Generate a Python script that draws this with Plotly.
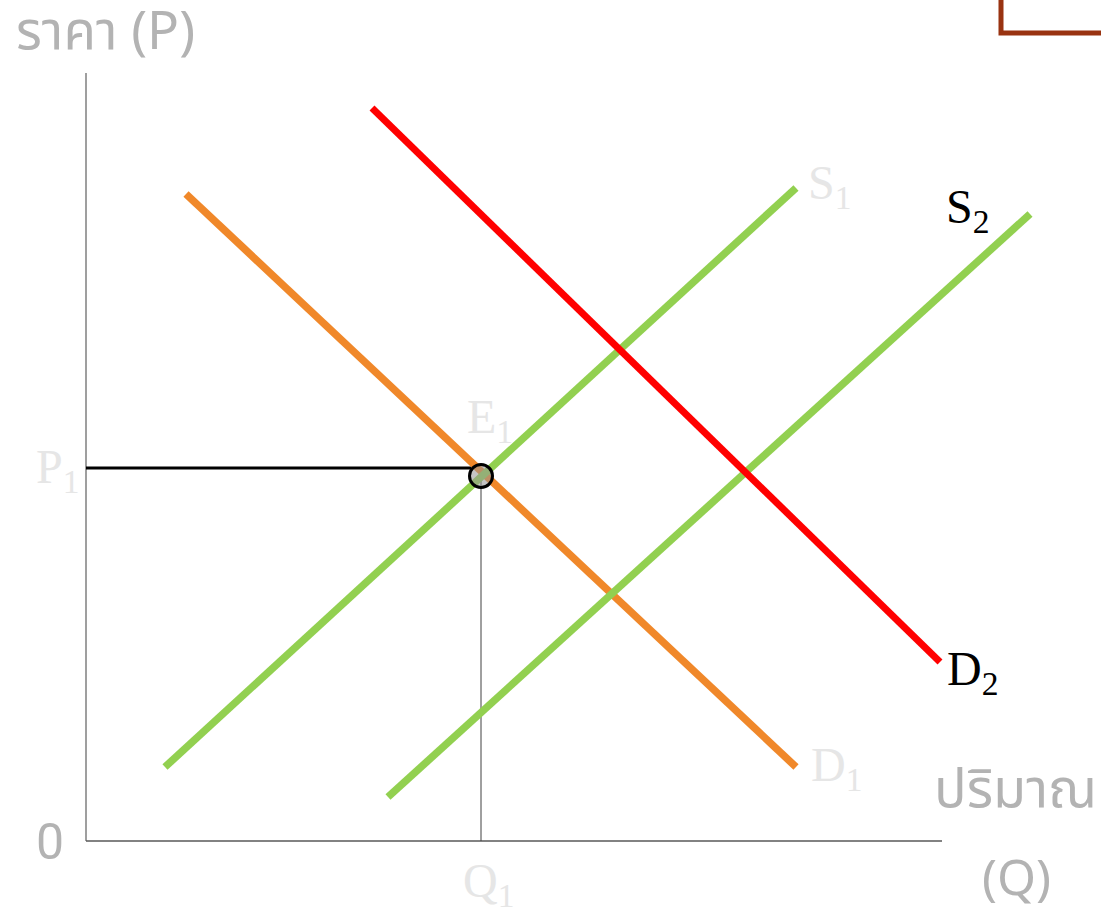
import plotly.graph_objects as go

# ----------------------------
# Data (quantity / price units)
# ----------------------------
q_d1 = [10.0, 71.0]
p_d1 = [64.7, 7.4]

q_d2 = [28.6, 85.4]
p_d2 = [73.3, 17.9]

q_s1 = [7.9, 71.0]
p_s1 = [7.4, 65.3]

q_s2 = [30.2, 94.4]
p_s2 = [4.4, 62.7]

eq_q = [39.5]
eq_p = [36.5]
p1_level = 37.3

axis_top = 76.8
axis_right = 85.6

GREEN = "#92d050"
ORANGE = "#f0882a"
RED = "#ff0000"
LIGHT = "#e6e6e6"
THAI_GREY = "#b3b3b3"

fig = go.Figure()

# ----------------------------
# Axes drawn as lines
# ----------------------------
fig.add_trace(go.Scatter(x=[0, 0], y=[axis_top, 0], mode="lines",
                         line=dict(color="#7f7f7f", width=1.5), hoverinfo="skip"))
fig.add_trace(go.Scatter(x=[0, axis_right], y=[0, 0], mode="lines",
                         line=dict(color="#595959", width=1.5), hoverinfo="skip"))

# guide lines to the equilibrium
fig.add_trace(go.Scatter(x=[0, eq_q[0] - 1.0], y=[p1_level, p1_level], mode="lines",
                         line=dict(color="black", width=3), hoverinfo="skip"))
fig.add_trace(go.Scatter(x=[eq_q[0], eq_q[0]], y=[eq_p[0], 0], mode="lines",
                         line=dict(color="#404040", width=1), hoverinfo="skip"))

# ----------------------------
# Supply / demand curves
# ----------------------------
fig.add_trace(go.Scatter(x=q_d1, y=p_d1, mode="lines", name="D1",
                         line=dict(color=ORANGE, width=7.5)))
fig.add_trace(go.Scatter(x=q_s1, y=p_s1, mode="lines", name="S1",
                         line=dict(color=GREEN, width=7.5)))
fig.add_trace(go.Scatter(x=q_s2, y=p_s2, mode="lines", name="S2",
                         line=dict(color=GREEN, width=7.5)))
fig.add_trace(go.Scatter(x=q_d2, y=p_d2, mode="lines", name="D2",
                         line=dict(color=RED, width=7)))

# equilibrium point
fig.add_trace(go.Scatter(x=eq_q, y=eq_p, mode="markers",
                         marker=dict(size=23, color="rgba(150,150,150,0.55)",
                                     line=dict(color="black", width=3))))

# ----------------------------
# Labels
# ----------------------------
serif = "Liberation Serif, Times New Roman, serif"
thai = "Noto Sans Thai, Noto Sans, Roboto, sans-serif"

labels = [
    ("ราคา (P)", 1.9, 80.8, thai, 53, THAI_GREY),
    ("0", -3.6, -0.1, "Roboto, sans-serif", 50, THAI_GREY),
    ("P<sub>1</sub>", -2.8, 37.1, serif, 48, LIGHT),
    ("E<sub>1</sub>", 40.4, 42.1, serif, 48, LIGHT),
    ("S<sub>1</sub>", 74.4, 65.5, serif, 48, LIGHT),
    ("S<sub>2</sub>", 88.2, 63.1, serif, 48, "black"),
    ("D<sub>2</sub>", 88.6, 16.9, serif, 48, "black"),
    ("D<sub>1</sub>", 75.0, 7.3, serif, 48, LIGHT),
    ("Q<sub>1</sub>", 40.2, -4.3, serif, 48, LIGHT),
    ("ปริมาณ", 92.9, 5.1, thai, 54, THAI_GREY),
    ("(Q)", 93.0, -3.9, thai, 50, THAI_GREY),
]
for txt, x, y, fam, size, col in labels:
    fig.add_annotation(x=x, y=y, text=txt, showarrow=False,
                       font=dict(family=fam, size=size, color=col))

# partial box at the top right
fig.add_shape(type="rect", xref="paper", yref="paper",
              x0=1001 / 1101, x1=1.05, y0=1 - 33 / 912, y1=1.1,
              line=dict(color="#993311", width=5))

fig.update_layout(
    width=1101,
    height=912,
    margin=dict(l=0, r=0, t=0, b=0),
    paper_bgcolor="white",
    plot_bgcolor="white",
    showlegend=False,
    xaxis=dict(range=[-8.6, 101.5], visible=False, fixedrange=True),
    yaxis=dict(range=[-7.1, 84.1], visible=False, fixedrange=True),
)

# drop the default body margin so the figure fills the window
fig.write_html("out.html", config={"displayModeBar": False},
               post_script="document.body.style.margin = '0';")
